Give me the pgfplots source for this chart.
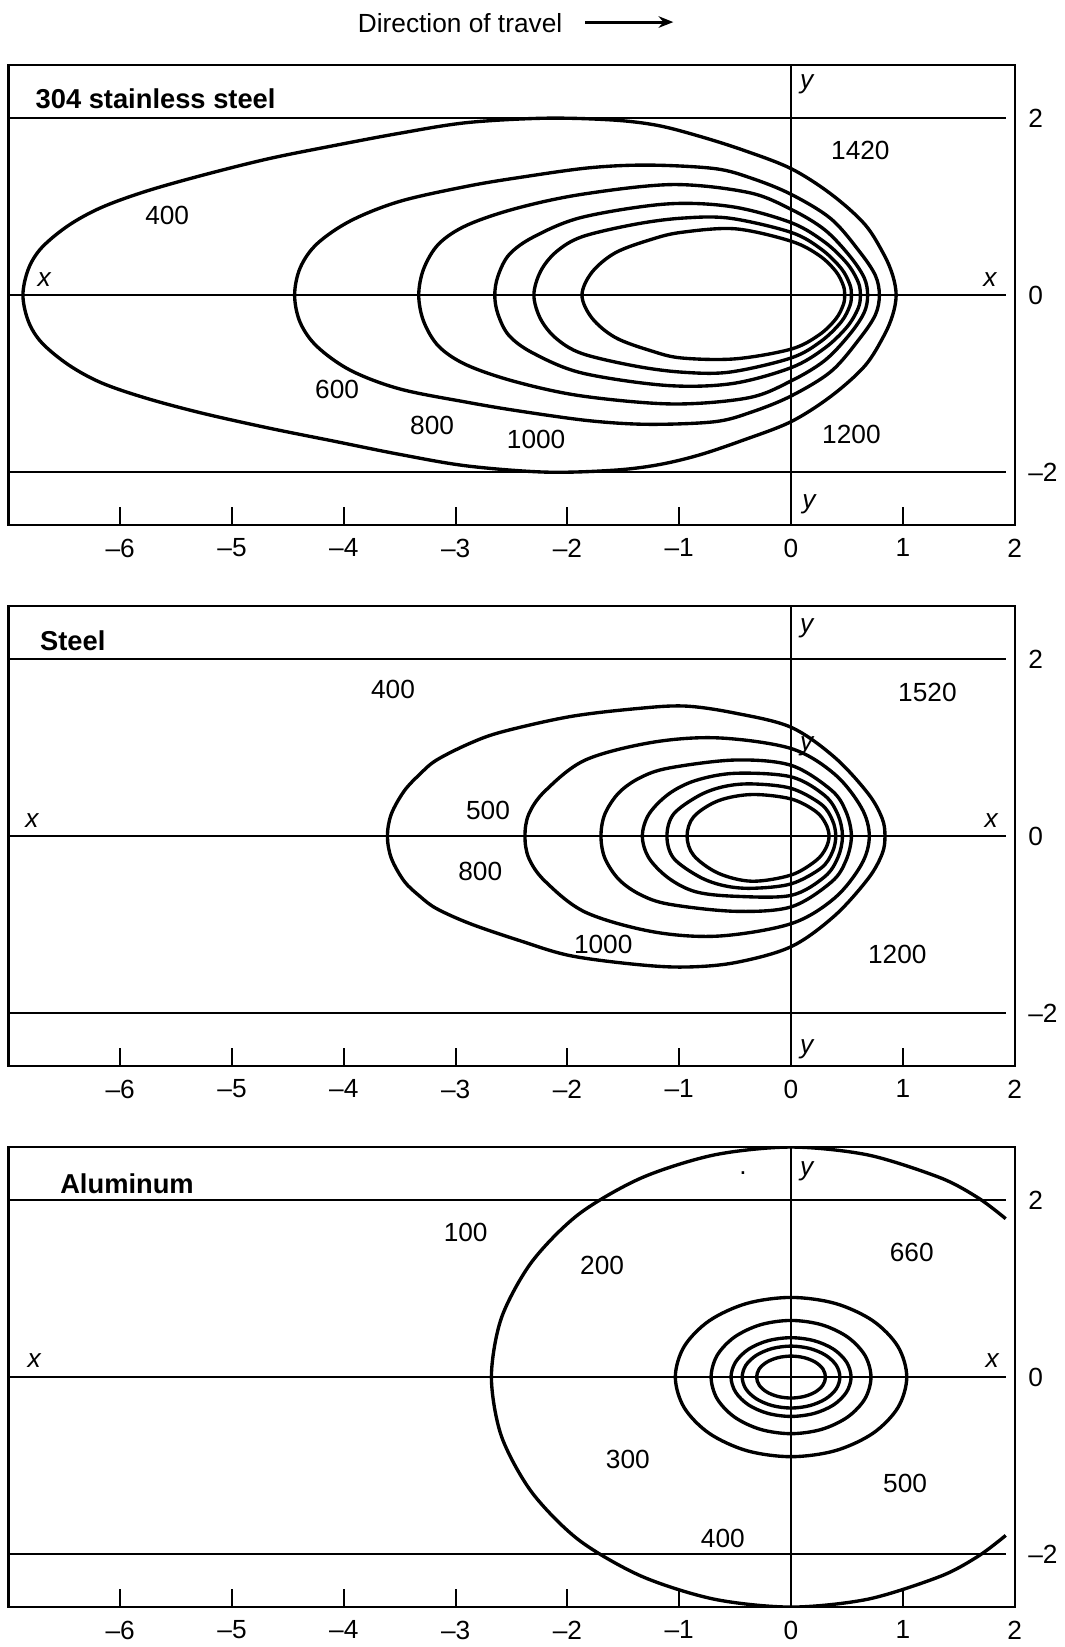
\documentclass[border=0pt]{standalone}
\usepackage{fontspec}
\setmainfont{Liberation Sans}
\usepackage{pgfplots}
\pgfplotsset{compat=1.18}
\usetikzlibrary{arrows.meta}

\pgfplotsset{
 panel/.style={
  scale only axis, width=479pt, height=219pt,
  anchor=north west,
  xmin=-7, xmax=2, ymin=-2.6, ymax=2.6,
  axis line style={line width=1.1pt},
  xtick={-6,-5,-4,-3,-2,-1,0,1,2},
  xticklabels={\textendash6,\textendash5,\textendash4,\textendash3,\textendash2,\textendash1,0,1,2},
  xtick pos=left, xtick align=inside,
  major tick length=8.5pt,
  xtick style={line width=0.9pt, black},
  ytick={-2,0,2}, yticklabels={\textendash2,0,2},
  ytick pos=right, yticklabel pos=right,
  ytick style={draw=none},
  tick label style={font=\fontsize{12.5}{14}\selectfont},
  xticklabel style={yshift=-3pt},
  yticklabel style={xshift=3pt},
 },
 cont/.style={black, line width=1.6pt, smooth cycle, tension=0.55, mark=none},
 guide/.style={black, line width=1.0pt, mark=none},
}
\newcommand{\guides}{%
 \addplot[guide] coordinates {(-7,2) (1.92,2)};
 \addplot[guide] coordinates {(-7,0) (1.92,0)};
 \addplot[guide] coordinates {(-7,-2) (1.92,-2)};
 \addplot[black, line width=0.9pt, mark=none] coordinates {(0,-2.6) (0,2.6)};
}
\tikzset{lab/.style={font=\fontsize{12.5}{14}\selectfont, inner sep=0pt},
 ttl/.style={font=\fontsize{13}{15}\selectfont\bfseries, anchor=west, inner sep=0pt}}

\begin{document}
\begin{tikzpicture}
\path[use as bounding box] (-4pt,31pt) rectangle (502.5pt,-753pt);
\node[font=\fontsize{12.5}{15}\selectfont] at (215pt,20pt) {Direction of travel};
\draw[line width=1.4pt, -{Stealth[length=7pt,width=5.5pt]}] (274.5pt,20.5pt) -- (316.5pt,20.5pt);

% ---------------- 304 stainless steel
\begin{axis}[panel, at={(0pt,0pt)}]
\guides
\addplot[cont] coordinates {(0.94,0) (0.91,0.22) (0.83,0.46) (0.66,0.80) (0.36,1.14) (0,1.43) (-0.43,1.64) (-0.83,1.80) (-1.20,1.92) (-1.60,1.98) (-2.20,2.00) (-2.90,1.95) (-3.50,1.83) (-4.09,1.69) (-4.68,1.54) (-5.28,1.35) (-5.78,1.17) (-6.17,0.99) (-6.46,0.79) (-6.70,0.54) (-6.82,0.30) (-6.87,0) (-6.82,-0.30) (-6.70,-0.54) (-6.46,-0.79) (-6.17,-0.99) (-5.78,-1.16) (-5.28,-1.33) (-4.68,-1.50) (-4.09,-1.65) (-3.50,-1.80) (-2.90,-1.93) (-2.20,-2.00) (-1.60,-1.98) (-1.20,-1.92) (-0.83,-1.81) (-0.43,-1.64) (0,-1.43) (0.36,-1.14) (0.66,-0.80) (0.83,-0.46) (0.91,-0.22)};
\addplot[cont] coordinates {(0.79,0) (0.755,0.22) (0.62,0.48) (0.36,0.86) (0,1.14) (-0.35,1.32) (-0.68,1.43) (-1.27,1.47) (-1.80,1.44) (-2.43,1.33) (-2.90,1.23) (-3.50,1.06) (-3.94,0.84) (-4.24,0.58) (-4.39,0.31) (-4.44,0) (-4.39,-0.31) (-4.24,-0.58) (-3.94,-0.85) (-3.50,-1.06) (-2.90,-1.21) (-2.43,-1.31) (-1.80,-1.42) (-1.27,-1.46) (-0.68,-1.43) (-0.35,-1.32) (0,-1.14) (0.36,-0.86) (0.62,-0.48) (0.755,-0.22)};
\addplot[cont] coordinates {(0.685,0) (0.653,0.20) (0.52,0.45) (0.30,0.74) (0,0.97) (-0.38,1.16) (-1.06,1.25) (-1.87,1.14) (-2.46,0.98) (-2.90,0.79) (-3.15,0.58) (-3.285,0.30) (-3.33,0) (-3.285,-0.30) (-3.15,-0.58) (-2.90,-0.79) (-2.46,-0.98) (-1.87,-1.14) (-1.06,-1.23) (-0.38,-1.16) (0,-0.97) (0.30,-0.74) (0.52,-0.45) (0.653,-0.20)};
\addplot[cont] coordinates {(0.62,0) (0.60,0.15) (0.50,0.36) (0.30,0.60) (0,0.82) (-0.53,1.00) (-1.12,1.03) (-1.87,0.88) (-2.30,0.66) (-2.52,0.46) (-2.62,0.22) (-2.65,0) (-2.62,-0.22) (-2.52,-0.46) (-2.30,-0.66) (-1.87,-0.88) (-1.12,-1.02) (-0.53,-1.00) (0,-0.82) (0.30,-0.60) (0.50,-0.36) (0.60,-0.15)};
\addplot[cont] coordinates {(0.54,0) (0.526,0.12) (0.45,0.30) (0.27,0.52) (0,0.71) (-0.55,0.87) (-0.98,0.87) (-1.40,0.80) (-1.87,0.66) (-2.10,0.49) (-2.24,0.27) (-2.30,0) (-2.24,-0.27) (-2.10,-0.49) (-1.87,-0.66) (-1.40,-0.80) (-0.98,-0.87) (-0.55,-0.87) (0,-0.71) (0.27,-0.52) (0.45,-0.30) (0.526,-0.12)};
\addplot[cont] coordinates {(0.48,0) (0.467,0.11) (0.40,0.27) (0.25,0.45) (0,0.61) (-0.50,0.75) (-0.98,0.71) (-1.25,0.63) (-1.57,0.48) (-1.78,0.26) (-1.87,0) (-1.78,-0.26) (-1.57,-0.48) (-1.25,-0.63) (-0.98,-0.71) (-0.50,-0.72) (0,-0.61) (0.25,-0.45) (0.40,-0.27) (0.467,-0.11)};
\node[ttl] at (-6.76,2.22) {304 stainless steel};
\node[lab] at (-5.58,0.90) {400};
\node[lab] at (0.62,1.63) {1420};
\node[lab] at (-4.06,-1.07) {600};
\node[lab] at (-3.21,-1.47) {800};
\node[lab] at (-2.28,-1.63) {1000};
\node[lab] at (0.54,-1.57) {1200};
\node[lab] at (-6.68,0.18) {\itshape x};
\node[lab] at (1.78,0.18) {\itshape x};
\node[lab] at (0.14,2.38) {\itshape y};
\node[lab] at (0.16,-2.36) {\itshape y};
\end{axis}

% ---------------- Steel
\begin{axis}[panel, at={(0pt,-257.5pt)}]
\guides
\addplot[cont] coordinates {(0.84,0) (0.815,0.20) (0.69,0.48) (0.39,0.89) (0,1.23) (-0.50,1.39) (-0.95,1.47) (-1.39,1.44) (-1.98,1.35) (-2.58,1.18) (-2.87,1.05) (-3.17,0.86) (-3.32,0.70) (-3.46,0.51) (-3.575,0.25) (-3.61,0) (-3.575,-0.25) (-3.46,-0.51) (-3.32,-0.68) (-3.17,-0.82) (-2.87,-0.99) (-2.43,-1.18) (-1.98,-1.35) (-1.39,-1.45) (-0.95,-1.48) (-0.50,-1.43) (0,-1.25) (0.39,-0.90) (0.69,-0.48) (0.815,-0.20)};
\addplot[cont] coordinates {(0.70,0) (0.63,0.32) (0.39,0.70) (0,0.99) (-0.65,1.11) (-1.24,1.06) (-1.84,0.86) (-2.20,0.51) (-2.345,0.25) (-2.38,0) (-2.345,-0.25) (-2.20,-0.51) (-1.84,-0.86) (-1.24,-1.08) (-0.65,-1.13) (0,-0.99) (0.39,-0.70) (0.63,-0.32)};
\addplot[cont] coordinates {(0.54,0) (0.49,0.28) (0.36,0.52) (0,0.80) (-0.50,0.86) (-1.09,0.77) (-1.35,0.66) (-1.54,0.49) (-1.665,0.25) (-1.70,0) (-1.665,-0.25) (-1.54,-0.49) (-1.35,-0.66) (-1.09,-0.77) (-0.50,-0.85) (0,-0.80) (0.36,-0.52) (0.49,-0.28)};
\addplot[cont] coordinates {(0.46,0) (0.42,0.24) (0.30,0.46) (0,0.67) (-0.50,0.71) (-0.85,0.63) (-1.09,0.48) (-1.27,0.25) (-1.33,0) (-1.27,-0.25) (-1.09,-0.48) (-0.85,-0.63) (-0.50,-0.68) (0,-0.67) (0.30,-0.46) (0.42,-0.24)};
\addplot[cont] coordinates {(0.40,0) (0.37,0.18) (0.27,0.36) (0,0.54) (-0.35,0.59) (-0.60,0.56) (-0.82,0.46) (-1.05,0.25) (-1.11,0) (-1.05,-0.25) (-0.82,-0.46) (-0.60,-0.56) (-0.35,-0.59) (0,-0.54) (0.27,-0.36) (0.37,-0.18)};
\addplot[cont] coordinates {(0.34,0) (0.31,0.14) (0.22,0.28) (0,0.42) (-0.35,0.47) (-0.65,0.40) (-0.87,0.22) (-0.93,0) (-0.87,-0.22) (-0.65,-0.42) (-0.35,-0.51) (0,-0.44) (0.22,-0.28) (0.31,-0.14)};
\node[ttl] at (-6.72,2.21) {Steel};
\node[lab] at (-3.56,1.66) {400};
\node[lab] at (1.22,1.62) {1520};
\node[lab] at (-2.71,0.29) {500};
\node[lab] at (-2.78,-0.40) {800};
\node[lab] at (-1.68,-1.23) {1000};
\node[lab] at (0.95,-1.34) {1200};
\node[lab] at (-6.79,0.18) {\itshape x};
\node[lab] at (1.79,0.18) {\itshape x};
\node[lab] at (0.14,2.35) {\itshape y};
\node[lab] at (0.14,1.01) {\itshape y};
\node[lab] at (0.14,-2.41) {\itshape y};
\end{axis}

% ---------------- Aluminum
\begin{axis}[panel, at={(0pt,-515pt)}]
\guides
\addplot[black, line width=1.6pt, smooth, mark=none] coordinates {(1.92,1.79) (1.68,2.02) (1.34,2.25) (0.69,2.51) (0,2.60) (-0.69,2.51) (-1.34,2.25) (-1.90,1.84) (-2.32,1.30) (-2.59,0.67) (-2.68,0) (-2.59,-0.67) (-2.32,-1.30) (-1.90,-1.84) (-1.34,-2.25) (-0.69,-2.51) (0,-2.60) (0.69,-2.51) (1.34,-2.25) (1.68,-2.02) (1.92,-1.79)};
\addplot[cont] coordinates {(1.035,0) (0.956,0.345) (0.732,0.636) (0.396,0.832) (0,0.90) (-0.396,0.832) (-0.732,0.636) (-0.956,0.345) (-1.035,0) (-0.956,-0.345) (-0.732,-0.636) (-0.396,-0.832) (0,-0.90) (0.396,-0.832) (0.732,-0.636) (0.956,-0.345)};
\addplot[cont] coordinates {(0.715,0) (0.661,0.245) (0.506,0.452) (0.274,0.591) (0,0.64) (-0.274,0.591) (-0.506,0.452) (-0.661,0.245) (-0.715,0) (-0.661,-0.245) (-0.506,-0.452) (-0.274,-0.591) (0,-0.64) (0.274,-0.591) (0.506,-0.452) (0.661,-0.245)};
\addplot[cont] coordinates {(0.537,0) (0.496,0.170) (0.380,0.315) (0.206,0.411) (0,0.445) (-0.206,0.411) (-0.380,0.315) (-0.496,0.170) (-0.537,0) (-0.496,-0.170) (-0.380,-0.315) (-0.206,-0.411) (0,-0.445) (0.206,-0.411) (0.380,-0.315) (0.496,-0.170)};
\addplot[cont] coordinates {(0.437,0) (0.404,0.134) (0.309,0.247) (0.167,0.323) (0,0.35) (-0.167,0.323) (-0.309,0.247) (-0.404,0.134) (-0.437,0) (-0.404,-0.134) (-0.309,-0.247) (-0.167,-0.323) (0,-0.35) (0.167,-0.323) (0.309,-0.247) (0.404,-0.134)};
\addplot[cont] coordinates {(0.308,0) (0.285,0.091) (0.218,0.168) (0.118,0.219) (0,0.237) (-0.118,0.219) (-0.218,0.168) (-0.285,0.091) (-0.308,0) (-0.285,-0.091) (-0.218,-0.168) (-0.118,-0.219) (0,-0.237) (0.118,-0.219) (0.218,-0.168) (0.285,-0.091)};
\node[ttl] at (-6.54,2.19) {Aluminum};
\node[lab] at (-2.91,1.63) {100};
\node[lab] at (-1.69,1.26) {200};
\node[lab] at (1.08,1.41) {660};
\node[lab] at (-1.46,-0.93) {300};
\node[lab] at (1.02,-1.20) {500};
\node[lab] at (-0.61,-1.82) {400};
\node[lab] at (-0.43,2.30) {.};
\node[lab] at (-6.77,0.19) {\itshape x};
\node[lab] at (1.80,0.19) {\itshape x};
\node[lab] at (0.14,2.33) {\itshape y};
\end{axis}
\end{tikzpicture}
\end{document}
